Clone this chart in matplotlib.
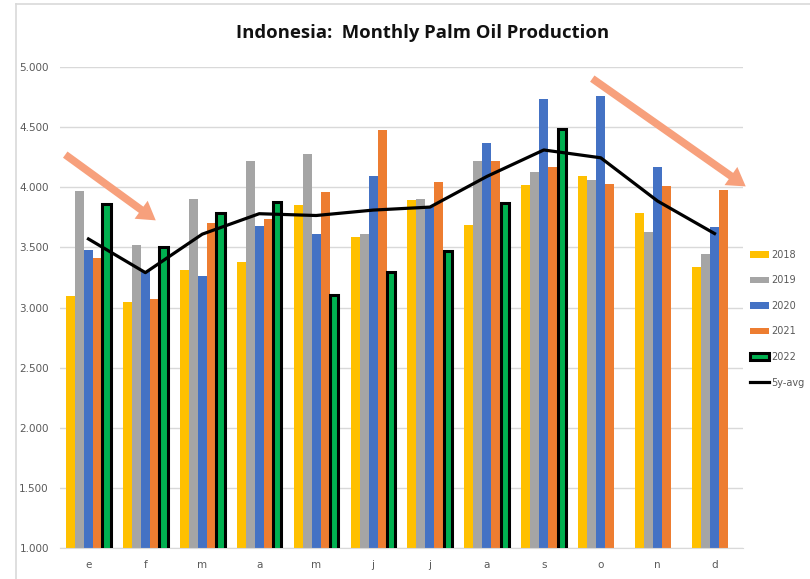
import matplotlib
matplotlib.use("Agg")
import matplotlib.pyplot as plt
import numpy as np
from matplotlib.lines import Line2D
from matplotlib.ticker import FuncFormatter

months = ["e", "f", "m", "a", "m", "j", "j", "a", "s", "o", "n", "d"]
y2018 = [3095, 3045, 3310, 3380, 3850, 3585, 3890, 3690, 4015, 4095, 3785, 3340]
y2019 = [3970, 3520, 3905, 4215, 4280, 3615, 3900, 4215, 4125, 4060, 3630, 3445]
y2020 = [3480, 3300, 3265, 3680, 3610, 4090, 3835, 4370, 4730, 4760, 4170, 3670]
y2021 = [3410, 3070, 3705, 3735, 3960, 4475, 4045, 4215, 4170, 4030, 4010, 3975]
y2022 = [3860, 3505, 3785, 3880, 3105, 3295, 3470, 3870, 4485]
avg5 = [3570, 3290, 3610, 3780, 3765, 3810, 3835, 4090, 4310, 4245, 3885, 3615]
labels = ["2018", "2019", "2020", "2021", "2022", "5y-avg"]

colors = ["#FFC000", "#A5A5A5", "#4472C4", "#ED7D31", "#00B050"]

fig = plt.figure(figsize=(8.1, 5.79), dpi=100)
ax = fig.add_axes([60/810, 1-548/579, (743-60)/810, (548-67)/579])

x = np.arange(len(months))
w = 0.158
series = [y2018, y2019, y2020, y2021]
handles = []
for i, s in enumerate(series):
    b = ax.bar(x + (i - 2) * w, s, width=w, color=colors[i], zorder=2, label=labels[i])
    handles.append(b)
x22 = np.arange(len(y2022))
b22 = ax.bar(x22 + 2 * w, y2022, width=w*0.95, color=colors[4], edgecolor="black",
             linewidth=2.2, zorder=3, label=labels[4])
handles.append(b22)
ln, = ax.plot(x, avg5, color="black", linewidth=2.3, zorder=4, label=labels[5])
handles.append(ln)

ax.set_xlim(-0.5, 11.5)
ax.set_ylim(1000, 5000)
ax.set_yticks(np.arange(1000, 5001, 500))
ax.yaxis.set_major_formatter(FuncFormatter(lambda v, p: f"{int(v):,}".replace(",", ".")))
ax.set_xticks(x)
ax.set_xticklabels(months)
ax.grid(axis="y", color="#D9D9D9", linewidth=1, zorder=0)
for sp in ["top", "right", "left"]:
    ax.spines[sp].set_visible(False)
ax.spines["bottom"].set_color("#D9D9D9")
ax.tick_params(axis="both", length=0, colors="#595959", labelsize=7.5)
ax.tick_params(axis="x", pad=9)
ax.tick_params(axis="y", pad=8)

leg = ax.legend(handles=handles, labels=labels, loc="upper left",
                bbox_to_anchor=(741/810, 1-241/579), bbox_transform=fig.transFigure,
                frameon=False, fontsize=7.0, labelcolor="#595959",
                handlelength=2.0, labelspacing=1.6, handletextpad=0.2)

fig.text(423/810, 1-33/579, "Indonesia:  Monthly Palm Oil Production",
         ha="center", va="center", fontsize=13.3, fontweight="bold",
         family=["Open Sans", "DejaVu Sans"], color="#111111")

# chart frame
fig.add_artist(Line2D([16/810, 1], [1-4/579, 1-4/579], color="#D9D9D9", linewidth=1.2,
                      transform=fig.transFigure))
fig.add_artist(Line2D([16/810, 16/810], [0, 1-4/579], color="#D9D9D9", linewidth=1.2,
                      transform=fig.transFigure))

arrow_color = "#F7A07C"
ap = dict(arrowstyle="simple,head_width=1.6,head_length=1.3,tail_width=0.55",
          color=arrow_color, lw=0)
ax.annotate("", xy=(158/810, 1-222/579), xytext=(63/810, 1-153/579),
            xycoords="figure fraction", textcoords="figure fraction", arrowprops=ap,
            annotation_clip=False)
ax.annotate("", xy=(748/810, 1-188/579), xytext=(590/810, 1-77/579),
            xycoords="figure fraction", textcoords="figure fraction", arrowprops=ap,
            annotation_clip=False)

fig.savefig("out.png", dpi=100)
